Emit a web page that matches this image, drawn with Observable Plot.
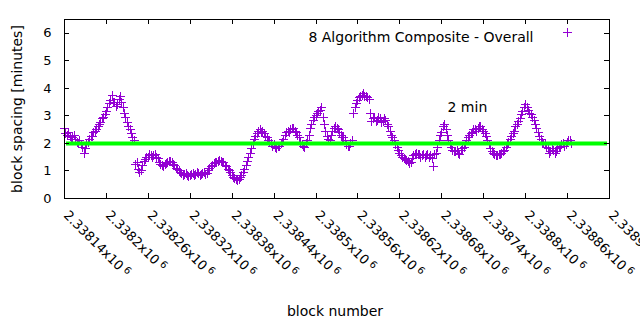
<!DOCTYPE html>
<html><head><meta charset="utf-8">
<script src="https://cdn.jsdelivr.net/npm/d3@7"></script>
<script src="https://cdn.jsdelivr.net/npm/@observablehq/plot@0.6"></script>
<style>html,body{margin:0;padding:0;background:#fff} svg{display:block}</style>
</head><body><div id="chart"></div>
<script>
// ---- data (block spacing in minutes) ----
const firstBlock = 2338140;
const blockStep = 4;
const spacing = [
 2.55, 2.3, 2.25, 2.2, 2.15, 2.0, 1.95, 1.65, 1.95, 2.15,
 2.25, 2.45, 2.6, 2.75, 2.95, 3.15, 3.45, 3.75, 3.5, 3.4,
 3.7, 3.3, 2.95, 2.6, 2.35, 2.1, 1.3, 0.95, 1.2, 1.4,
 1.5, 1.55, 1.55, 1.5, 1.3, 1.2, 1.22, 1.3, 1.35, 1.25,
 1.1, 1.0, 0.9, 0.88, 0.85, 0.82, 0.9, 0.88, 0.92, 0.87,
 0.95, 0.9, 1.1, 1.2, 1.3, 1.35, 1.35, 1.3, 1.15, 1.0,
 0.85, 0.72, 0.65, 0.75, 0.95, 1.2, 1.5, 1.8, 2.15, 2.35,
 2.5, 2.45, 2.25, 2.1, 2.0, 1.95, 1.8, 1.9, 2.05, 2.3,
 2.45, 2.5, 2.55, 2.4, 2.2, 1.95, 1.85, 2.1, 2.55, 2.85,
 3.0, 3.15, 3.3, 2.7, 2.25, 2.1, 2.45, 2.6, 2.5, 2.3,
 2.2, 1.95, 1.9, 2.1, 3.3, 3.55, 3.7, 3.8, 3.7, 3.6,
 2.8, 2.95, 2.85, 2.9, 2.8, 2.85, 2.6, 2.3, 2.1, 1.85,
 1.65, 1.5, 1.4, 1.35, 1.3, 1.55, 1.65, 1.6, 1.55, 1.5,
 1.6, 1.55, 1.15, 1.65, 2.1, 2.4, 2.7, 2.3, 1.95, 1.75,
 1.7, 1.65, 1.75, 1.85, 2.1, 2.3, 2.4, 2.5, 2.55, 2.6,
 2.45, 2.25, 1.95, 1.7, 1.6, 1.55, 1.6, 1.7, 1.85, 2.05,
 2.25, 2.45, 2.7, 2.9, 3.15, 3.4, 3.2, 3.05, 2.85, 2.55,
 2.25, 2.05, 1.95, 1.8, 1.7, 1.75, 1.7, 1.85, 1.95, 1.9,
 2.05, 2.1
];
// readings at the blocks in between (offset by half a step)
const spacingMid = [
 2.35, 2.4, 2.15, 2.3, 2.05, 2.1, 1.85, 1.8, 2.05, 2.25,
 2.4, 2.5, 2.7, 2.9, 3.05, 3.3, 3.55, 3.5, 3.35, 3.6,
 3.5, 3.1, 2.75, 2.5, 2.2, 1.25, 1.05, 1.0, 1.35, 1.5,
 1.6, 1.5, 1.58, 1.45, 1.25, 1.18, 1.28, 1.35, 1.3, 1.2,
 1.05, 0.95, 0.85, 0.92, 0.8, 0.88, 0.85, 0.95, 0.85, 0.9,
 0.88, 1.0, 1.15, 1.28, 1.32, 1.38, 1.3, 1.2, 1.05, 0.95,
 0.78, 0.68, 0.7, 0.85, 1.05, 1.35, 1.65, 2.0, 2.25, 2.45,
 2.4, 2.35, 2.2, 2.05, 1.9, 1.85, 1.9, 2.0, 2.15, 2.4,
 2.4, 2.55, 2.45, 2.3, 2.05, 1.9, 2.0, 2.3, 2.7, 2.95,
 3.1, 3.2, 2.95, 2.45, 2.15, 2.3, 2.55, 2.55, 2.4, 2.2,
 2.1, 1.9, 2.0, 3.1, 3.45, 3.65, 3.75, 3.7, 3.65, 3.1,
 2.9, 2.8, 2.95, 2.75, 2.9, 2.7, 2.45, 2.2, 1.95, 1.75,
 1.55, 1.45, 1.38, 1.28, 1.45, 1.6, 1.6, 1.5, 1.58, 1.55,
 1.5, 1.45, 1.6, 1.85, 2.3, 2.6, 2.5, 2.1, 1.85, 1.7,
 1.75, 1.6, 1.8, 1.95, 2.2, 2.35, 2.5, 2.45, 2.6, 2.5,
 2.35, 2.1, 1.8, 1.65, 1.55, 1.6, 1.65, 1.75, 1.95, 2.15,
 2.35, 2.6, 2.8, 3.05, 3.3, 3.3, 3.1, 2.95, 2.7, 2.4,
 2.15, 2.0, 1.85, 1.65, 1.8, 1.65, 1.8, 1.9, 2.0, 1.95,
 2.1, 2.0
];
const xTicks = [2338140, 2338200, 2338260, 2338320, 2338380, 2338440, 2338500,
                2338560, 2338620, 2338680, 2338740, 2338800, 2338860, 2338920];
const yTicks = [0, 1, 2, 3, 4, 5, 6];
const targetLine = [2];
const seriesName = "8 Algorithm Composite - Overall";
const lineLabel = "2 min";
const xLabel = "block number";
const yLabel = "block spacing [minutes]";
const exponent = "6";

// ---- layout ----
const W = 640, H = 330, mL = 64, mR = 31, mT = 19, mB = 132;
const fw = W - mL - mR, fh = H - mT - mB, tk = 5;
const purple = "#9400d3", green = "#00ff00";
const FS = 14, TFS = 13;

const data = spacing.map((v, i) => ({block: firstBlock + i * blockStep, v}))
  .concat(spacingMid.map((v, i) => ({block: firstBlock + blockStep / 2 + i * blockStep, v})));
const plusSymbol = {draw(ctx, size) {
  const r = Math.sqrt(size / Math.PI);
  ctx.moveTo(-r, 0); ctx.lineTo(r, 0);
  ctx.moveTo(0, -r); ctx.lineTo(0, r);
}};
const fmtX = d => String(+(d / 1e6).toFixed(5)) + "x10";

const chart = Plot.plot({
  width: W, height: H,
  marginLeft: mL, marginRight: mR, marginTop: mT, marginBottom: mB,
  x: {domain: [xTicks[0], xTicks[xTicks.length - 1]], axis: null},
  y: {domain: [0, 6.5], axis: null},
  style: {fontFamily: "DejaVu Sans", fontSize: FS + "px", color: "black", background: "white"},
  marks: [
    Plot.dot(data, {x: "block", y: "v", symbol: plusSymbol, r: 4.5, stroke: purple, fill: "none", strokeWidth: 1, shapeRendering: "crispEdges"}),
    Plot.ruleY(targetLine, {y: d => d, stroke: green, strokeWidth: 4, insetLeft: 2, insetRight: 2}),
    Plot.frame({stroke: "black", strokeWidth: 1, shapeRendering: "crispEdges"}),
    Plot.tickX(xTicks, {x: d => d, insetTop: fh - tk, stroke: "black", shapeRendering: "crispEdges"}),
    Plot.tickX(xTicks, {x: d => d, insetBottom: fh - tk, stroke: "black", shapeRendering: "crispEdges"}),
    Plot.tickY(yTicks, {y: d => d, insetRight: fw - tk, stroke: "black", shapeRendering: "crispEdges"}),
    Plot.tickY(yTicks, {y: d => d, insetLeft: fw - tk, stroke: "black", shapeRendering: "crispEdges"}),
    Plot.text(yTicks, {y: d => d, text: d => String(d), frameAnchor: "left", textAnchor: "end", dx: -13, fontSize: TFS, fill: "black"}),
    Plot.text(xTicks, {x: d => d, text: fmtX, frameAnchor: "bottom", rotate: 45, textAnchor: "start", lineAnchor: "top", dx: 5, dy: 11, fontSize: TFS, fill: "black", className: "xtl"}),
    Plot.text([seriesName], {frameAnchor: "top-right", textAnchor: "end", dx: -76, dy: 13, fontSize: FS, fill: "black"}),
    Plot.dot([seriesName], {frameAnchor: "top-right", dx: -42, dy: 13, symbol: plusSymbol, r: 4.5, stroke: purple, fill: "none", strokeWidth: 1, shapeRendering: "crispEdges"}),
    Plot.text([lineLabel], {frameAnchor: "top-left", textAnchor: "start", dx: 383, dy: 83, fontSize: FS, fill: "black"}),
    Plot.text([yLabel], {frameAnchor: "left", textAnchor: "middle", rotate: -90, dx: -47, fontSize: FS, fill: "black"}),
    Plot.text([xLabel], {frameAnchor: "bottom", textAnchor: "middle", dx: -2, dy: 117, fontSize: FS, fill: "black"})
  ]
});
// superscript exponent on x tick labels
chart.querySelectorAll("g.xtl > text").forEach(t => {
  if (!/x10$/.test(t.textContent)) return;
  const s = document.createElementNS("http://www.w3.org/2000/svg", "tspan");
  s.setAttribute("dx", "3");
  s.setAttribute("dy", "-4");
  s.setAttribute("font-size", "10");
  s.textContent = exponent;
  t.appendChild(s);
});
document.getElementById("chart").appendChild(chart);
</script>
</body></html>
